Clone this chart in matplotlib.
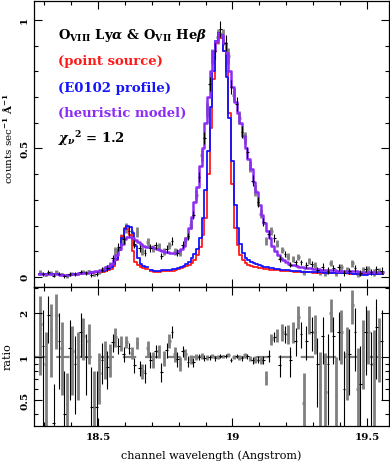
import numpy as np
import matplotlib
matplotlib.use("Agg")
import matplotlib.pyplot as plt
from matplotlib.ticker import FixedLocator, NullFormatter, FixedFormatter

plt.rcParams['font.family'] = 'DejaVu Serif'
plt.rcParams['font.weight'] = 'bold'
plt.rcParams['mathtext.fontset'] = 'dejavuserif'

# model grid (Angstrom), 0.01 A bins from 18.28 to 19.56
wave = np.round(np.arange(18.28, 19.5651, 0.01), 3)
nan = np.nan

point_source = [
    0.010, 0.010, 0.010, 0.010, 0.011, 0.011, 0.011, 0.010, 0.009, 0.006,
    0.005, 0.007, 0.009, 0.010, 0.011, 0.012, 0.013, 0.014, 0.015, 0.016,
    0.017, 0.018, 0.019, 0.020, 0.021, 0.023, 0.026, 0.032, 0.042, 0.065,
    0.110, 0.160, 0.190, 0.188, 0.165, 0.100, 0.060, 0.045, 0.038, 0.034,
    0.032, nan, 0.022, 0.021, 0.021, 0.021, 0.022, 0.022, 0.023, 0.024,
    0.025, 0.027, 0.030, 0.033, 0.037, 0.042, 0.048, 0.056, 0.068, 0.085,
    0.115, 0.165, 0.230, 0.400, 0.580, 0.770, 0.910, 0.935, 0.930, 0.880,
    0.800, 0.640, 0.360, 0.190, 0.125, 0.085, 0.065, 0.055, 0.048, 0.043,
    0.040, 0.037, 0.035, 0.033, 0.031, 0.030, 0.029, 0.028, 0.027, 0.026,
    0.025, 0.024, 0.023, 0.022, 0.022, 0.021, 0.020, 0.020, 0.019, 0.019,
    0.018, 0.018, 0.017, 0.017, 0.017, 0.016, 0.016, 0.016, 0.015, 0.015,
    0.015, 0.015, 0.014, 0.014, 0.014, 0.014, 0.013, 0.013, 0.013, 0.013,
    0.012, 0.012, 0.012, 0.012, 0.012, 0.011, 0.011, 0.011, 0.011]

e0102_profile = [
    0.010, 0.010, 0.011, 0.011, 0.011, 0.011, 0.011, 0.010, 0.009, 0.006,
    0.005, 0.007, 0.009, 0.011, 0.012, 0.013, 0.014, 0.015, 0.016, 0.017,
    0.018, 0.019, 0.021, 0.022, 0.024, 0.026, 0.030, 0.037, 0.050, 0.070,
    0.105, 0.150, 0.185, 0.200, 0.195, 0.170, 0.120, 0.075, 0.052, 0.042,
    0.037, nan, 0.026, 0.025, 0.025, 0.025, 0.026, 0.026, 0.027, 0.028,
    0.030, 0.032, 0.035, 0.039, 0.044, 0.050, 0.060, 0.075, 0.090, 0.110,
    0.150, 0.230, 0.340, 0.490, 0.660, 0.800, 0.920, 0.950, 0.940, 0.880,
    0.780, 0.620, 0.450, 0.280, 0.190, 0.130, 0.095, 0.075, 0.065, 0.058,
    0.053, 0.049, 0.046, 0.043, 0.040, 0.038, 0.036, 0.034, 0.032, 0.031,
    0.029, 0.028, 0.027, 0.026, 0.025, 0.024, 0.023, 0.022, 0.021, 0.021,
    0.020, 0.020, 0.019, 0.019, 0.018, 0.018, 0.017, 0.017, 0.017, 0.016,
    0.016, 0.016, 0.015, 0.015, 0.015, 0.014, 0.014, 0.013, 0.012, 0.010,
    0.009, 0.009, 0.009, 0.010, 0.012, 0.012, 0.012, 0.012, 0.012]

heuristic_model = [
    0.010, 0.010, 0.010, 0.011, 0.011, 0.011, 0.010, 0.010, 0.009, 0.008,
    0.006, 0.008, 0.012, 0.013, 0.013, 0.014, 0.015, 0.016, 0.017, 0.018,
    0.020, 0.022, 0.025, 0.028, 0.032, 0.037, 0.042, 0.050, 0.065, 0.085,
    0.110, 0.130, 0.148, 0.157, 0.155, 0.150, 0.143, 0.136, 0.128, 0.122,
    0.117, nan, 0.118, 0.114, 0.110, 0.106, 0.102, 0.099, 0.096, 0.094,
    0.093, 0.095, 0.100, 0.108, 0.120, 0.150, 0.190, 0.235, 0.290, 0.350,
    0.430, 0.500, 0.600, 0.700, 0.800, 0.880, 0.920, 0.950, 0.940, 0.910,
    0.870, 0.800, 0.740, 0.680, 0.640, 0.600, 0.550, 0.500, 0.460, 0.420,
    0.370, 0.330, 0.280, 0.240, 0.210, 0.180, 0.150, 0.120, 0.100, 0.085,
    0.075, 0.066, 0.058, 0.052, 0.048, 0.045, 0.042, 0.040, 0.038, 0.036,
    0.034, 0.033, 0.032, 0.031, 0.030, 0.029, 0.028, 0.028, 0.027, 0.026,
    0.026, 0.025, 0.025, 0.024, 0.024, 0.023, 0.023, 0.022, 0.022, 0.021,
    0.021, 0.021, 0.020, 0.020, 0.020, 0.019, 0.019, 0.019, 0.019]

# data: two spectral orders (gray and black), 0.02 A bins, offset by 0.01
wave_gray = np.round(18.285 + 0.02 * np.arange(64), 3)
wave_black = np.round(18.295 + 0.02 * np.arange(64), 3)

counts_gray = [
    0.017, 0.009, 0.017, 0.019, 0.011, 0.003, 0.013, 0.013, 0.021, 0.022,
    0.009, 0.020, 0.034, 0.045, 0.100, 0.150, 0.190, 0.165, 0.175, 0.100,
    0.135, 0.111, 0.119, 0.098, 0.124, 0.099, 0.094, 0.142, 0.204, 0.320,
    0.474, 0.650, 0.857, 0.935, 0.934, 0.860, 0.710, 0.620, 0.540, 0.430,
    0.336, 0.247, 0.140, 0.180, 0.130, 0.105, 0.080, 0.069, 0.078, 0.018,
    0.062, 0.047, 0.019, 0.016, 0.054, 0.014, 0.037, 0.025, 0.053, 0.013,
    0.025, 0.030, 0.018, 0.024]
counts_gray_err = [
    0.010, 0.006, 0.008, 0.008, 0.006, 0.006, 0.007, 0.007, 0.007, 0.007,
    0.007, 0.008, 0.010, 0.012, 0.015, 0.018, 0.020, 0.018, 0.018, 0.015,
    0.015, 0.014, 0.014, 0.013, 0.014, 0.013, 0.013, 0.014, 0.016, 0.018,
    0.022, 0.026, 0.030, 0.030, 0.030, 0.030, 0.027, 0.025, 0.024, 0.022,
    0.020, 0.018, 0.016, 0.016, 0.014, 0.013, 0.012, 0.011, 0.011, 0.010,
    0.012, 0.012, 0.012, 0.013, 0.013, 0.012, 0.014, 0.013, 0.014, 0.012,
    0.012, 0.012, 0.013, 0.012]
counts_black = [
    0.012, 0.020, 0.004, 0.013, 0.003, 0.012, 0.011, 0.021, 0.016, 0.008,
    0.011, 0.028, 0.034, 0.072, 0.117, 0.147, 0.180, 0.129, 0.111, 0.094,
    0.113, 0.123, 0.082, 0.109, 0.140, 0.094, 0.125, 0.158, 0.241, 0.390,
    0.540, 0.750, 0.880, 0.964, 0.910, 0.740, 0.673, 0.563, 0.485, 0.375,
    0.293, 0.214, 0.168, 0.152, 0.070, 0.090, 0.048, 0.057, 0.057, 0.046,
    0.049, 0.027, 0.040, 0.025, 0.036, 0.038, 0.014, 0.024, 0.034, 0.014,
    0.031, 0.018, 0.030, 0.025]
counts_black_err = [
    0.009, 0.008, 0.006, 0.007, 0.006, 0.007, 0.007, 0.007, 0.007, 0.007,
    0.008, 0.009, 0.011, 0.013, 0.016, 0.018, 0.020, 0.016, 0.015, 0.014,
    0.014, 0.014, 0.013, 0.014, 0.015, 0.013, 0.014, 0.015, 0.017, 0.020,
    0.024, 0.028, 0.030, 0.031, 0.030, 0.028, 0.026, 0.024, 0.022, 0.020,
    0.019, 0.017, 0.016, 0.015, 0.012, 0.012, 0.011, 0.011, 0.011, 0.012,
    0.012, 0.012, 0.013, 0.013, 0.012, 0.013, 0.012, 0.012, 0.013, 0.012,
    0.013, 0.012, 0.014, 0.013]

ratio_gray = [
    1.70, 0.89, 1.53, 1.94, 1.15, 0.47, 1.10, 1.00, 1.40, 1.30,
    0.45, 0.77, 1.00, 0.98, 1.38, 1.25, 1.27, 1.07, 1.25, 0.80,
    1.15, 0.96, 1.10, 0.98, 1.30, 1.05, 0.90, 1.05, 0.97, 1.00,
    1.02, 1.00, 1.02, 1.00, 1.01, 1.03, 1.00, 1.00, 1.03, 0.98,
    0.96, 0.95, 0.72, 1.33, 1.42, 1.50, 1.45, 1.50, 1.90, 0.48,
    1.85, 1.50, 0.64, 0.57, 2.00, 0.55, 1.50, 1.05, 2.30, 0.60,
    1.20, 1.50, 0.89, 1.27]
ratio_gray_err = [
    0.95, 0.60, 0.80, 0.80, 0.60, 0.30, 0.55, 0.50, 0.45, 0.40,
    0.35, 0.30, 0.30, 0.25, 0.20, 0.15, 0.12, 0.10, 0.12, 0.10,
    0.15, 0.12, 0.12, 0.12, 0.14, 0.12, 0.10, 0.09, 0.07, 0.05,
    0.05, 0.04, 0.035, 0.03, 0.03, 0.03, 0.035, 0.04, 0.04, 0.04,
    0.05, 0.06, 0.08, 0.12, 0.15, 0.20, 0.22, 0.25, 0.35, 0.30,
    0.40, 0.45, 0.45, 0.50, 0.50, 0.45, 0.60, 0.55, 0.60, 0.55,
    0.60, 0.60, 0.65, 0.60]
ratio_black = [
    1.20, 1.94, 0.35, 1.30, 0.40, 1.15, 0.90, 1.50, 1.00, 0.45,
    0.45, 0.95, 0.85, 1.27, 1.20, 1.05, 1.15, 0.88, 0.84, 0.78,
    0.96, 1.10, 0.79, 1.12, 1.50, 0.97, 1.10, 0.93, 0.92, 1.00,
    0.98, 1.00, 0.98, 1.02, 1.02, 0.96, 1.02, 0.98, 1.01, 0.95,
    0.96, 0.95, 1.02, 1.38, 0.88, 1.45, 0.95, 1.30, 1.45, 1.30,
    1.50, 0.90, 1.40, 0.89, 1.40, 1.50, 0.60, 1.05, 1.50, 0.65,
    1.50, 0.89, 1.60, 1.30]
ratio_black_err = [
    0.90, 0.70, 0.30, 0.70, 0.40, 0.65, 0.50, 0.50, 0.45, 0.40,
    0.35, 0.30, 0.25, 0.18, 0.15, 0.12, 0.10, 0.10, 0.10, 0.12,
    0.12, 0.12, 0.12, 0.13, 0.15, 0.12, 0.10, 0.08, 0.07, 0.05,
    0.045, 0.04, 0.035, 0.03, 0.03, 0.03, 0.035, 0.04, 0.045, 0.05,
    0.055, 0.06, 0.09, 0.12, 0.15, 0.20, 0.22, 0.28, 0.30, 0.35,
    0.40, 0.45, 0.50, 0.55, 0.50, 0.55, 0.50, 0.50, 0.70, 0.55,
    0.75, 0.60, 0.90, 0.80]

RED = '#ff1a1a'
BLUE = '#1414ff'
PURPLE = '#8c2cf5'
GRAY = '#808080'

fig = plt.figure(figsize=(3.9, 4.67), dpi=100)
ax = fig.add_axes([34 / 390, 1 - 287 / 467, 355 / 390, 286 / 467])
axr = fig.add_axes([34 / 390, 1 - 426 / 467, 355 / 390, 139 / 467])

# spectrum panel
ax.errorbar(wave_gray, counts_gray, yerr=counts_gray_err, xerr=0.005,
            fmt='none', ecolor=GRAY, elinewidth=2.0, zorder=1)
ax.step(wave, point_source, where='mid', color=RED, lw=1.3, zorder=2)
ax.step(wave, e0102_profile, where='mid', color=BLUE, lw=1.3, zorder=3)
ax.step(wave, heuristic_model, where='mid', color=PURPLE, lw=1.8, zorder=4)
ax.errorbar(wave_black, counts_black, yerr=counts_black_err, xerr=0.005,
            fmt='none', ecolor='black', elinewidth=0.8, zorder=5)

ax.set_xlim(18.262, 19.582)
ax.set_ylim(-0.039, 1.074)
ax.set_ylabel(r'counts sec$^{-1}$ $\rm\AA^{-1}$', fontsize=7.5)
ax.yaxis.set_label_coords(-0.055, 0.52)

tx = 0.068
ax.text(tx, 0.94, r'O$_{\rm VIII}$ Ly$\alpha$ & O$_{\rm VII}$ He$\beta$',
        transform=ax.get_yaxis_transform(), fontsize=9.5, va='center', color='black')
ax.text(tx, 0.837, '(point source)', transform=ax.get_yaxis_transform(),
        fontsize=9.5, va='center', color=RED)
ax.text(tx, 0.735, '(E0102 profile)', transform=ax.get_yaxis_transform(),
        fontsize=9.5, va='center', color=BLUE)
ax.text(tx, 0.638, '(heuristic model)', transform=ax.get_yaxis_transform(),
        fontsize=9.5, va='center', color=PURPLE)
ax.text(tx, 0.54, r'$\chi_\nu{}^2$ = 1.2', transform=ax.get_yaxis_transform(),
        fontsize=9.5, va='center', color='black')

# ratio panel
axr.axhline(1.0, color=GRAY, lw=1.6, ls=(0, (6, 4)), zorder=0)
axr.set_yscale('log', nonpositive='clip')
axr.errorbar(wave_gray, ratio_gray, yerr=ratio_gray_err, xerr=0.005,
             fmt='none', ecolor=GRAY, elinewidth=2.0, zorder=1)
axr.errorbar(wave_black, ratio_black, yerr=ratio_black_err, xerr=0.005,
             fmt='none', ecolor='black', elinewidth=0.8, zorder=2)
axr.set_xlim(18.262, 19.582)
axr.set_ylim(0.333, 3.05)
axr.set_ylabel('ratio', fontsize=8)
axr.yaxis.set_label_coords(-0.06, 0.5)
axr.set_xlabel('channel wavelength (Angstrom)', fontsize=8, labelpad=6)

axr.yaxis.set_major_locator(FixedLocator([0.5, 1, 2]))
axr.yaxis.set_major_formatter(FixedFormatter(['0.5', '1', '2']))
axr.yaxis.set_minor_locator(FixedLocator([0.4, 0.6, 0.7, 0.8, 0.9, 3]))
axr.yaxis.set_minor_formatter(NullFormatter())

ax.set_yticks([0, 0.5, 1])
ax.set_yticklabels(['0', '0.5', '1'])
ax.set_yticks(np.arange(0, 1.05, 0.1), minor=True)

for a in (ax, axr):
    a.set_xticks([18.5, 19, 19.5])
    a.set_xticks(np.arange(18.3, 19.59, 0.1), minor=True)
    a.tick_params(which='both', direction='in', top=True, right=True,
                  labelsize=7.5, width=0.8)
    a.tick_params(which='major', length=6)
    a.tick_params(which='minor', length=3)
    for lab in a.get_yticklabels():
        lab.set_rotation(90)
        lab.set_va('center')
    for s in a.spines.values():
        s.set_linewidth(0.9)

ax.tick_params(labelbottom=False)
axr.set_xticklabels(['18.5', '19', '19.5'])
axr.tick_params(axis='x', pad=5)

fig.savefig('out.png', dpi=100)
